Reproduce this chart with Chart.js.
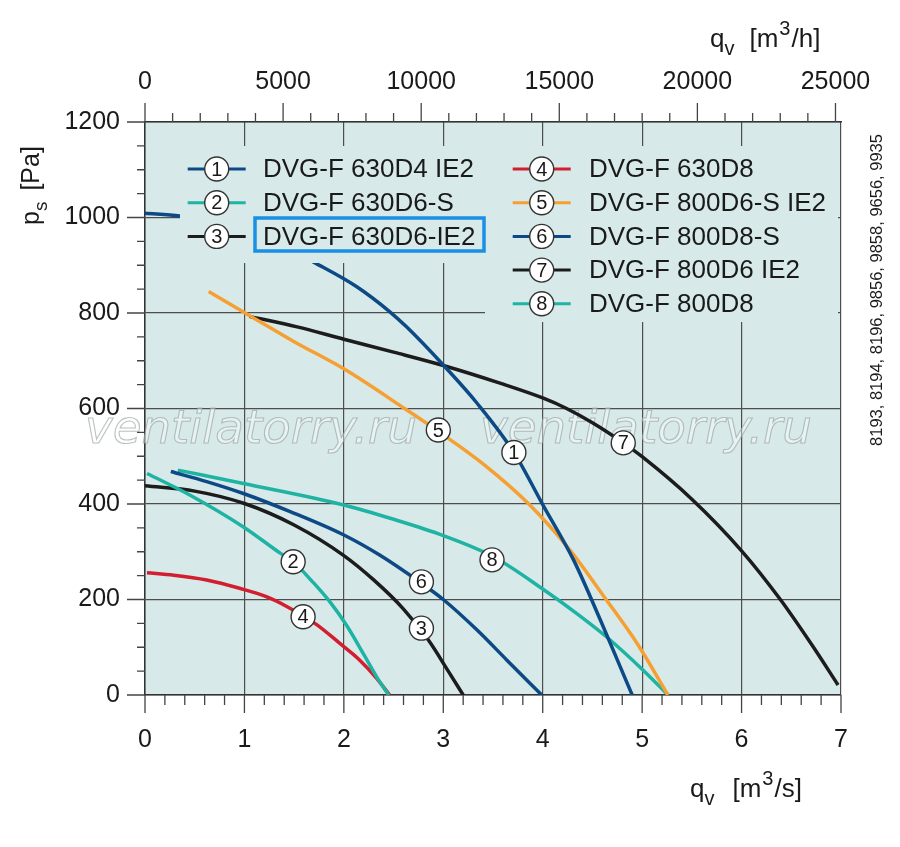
<!DOCTYPE html>
<html>
<head>
<meta charset="utf-8">
<title>DVG-F fan curves</title>
<script src="https://cdn.jsdelivr.net/npm/chart.js@4.4.1/dist/chart.umd.min.js"></script>
<style>
  html, body { margin: 0; padding: 0; background: #fff; }
  #wrap { width: 900px; height: 847px; }
</style>
</head>
<body>
<div id="wrap"><canvas id="fanChart" width="900" height="847"></canvas></div>
<script>
// curve data: q in m3/s, p in Pa
const seriesNames = [
  "DVG-F 630D4 IE2", "DVG-F 630D6-S", "DVG-F 630D6-IE2", "DVG-F 630D8",
  "DVG-F 800D6-S IE2", "DVG-F 800D8-S", "DVG-F 800D6 IE2", "DVG-F 800D8"
]
const q1 = [0, 0.35, 0.8, 1.3, 1.71, 2.13, 2.46, 2.63, 3.0, 3.34, 3.71, 4.01, 4.31, 4.58, 4.78, 4.9]
const p1 = [1009, 1003, 985, 950, 905, 855, 803, 771, 691, 611, 508, 395, 283, 157, 59, 0]
const q2 = [0.02, 0.45, 0.99, 1.36, 1.49, 1.69, 1.86, 2.03, 2.2, 2.33, 2.45]
const p2 = [464, 419, 352, 297, 279, 236, 195, 145, 85, 38, 0]
const q3 = [0, 0.5, 1.0, 1.5, 2.0, 2.3, 2.6, 2.85, 3.05, 3.2]
const p3 = [438, 427, 401, 356, 292, 241, 180, 115, 50, 0]
const q4 = [0.02, 0.29, 0.62, 0.96, 1.22, 1.43, 1.73, 1.96, 2.16, 2.33, 2.46]
const p4 = [256, 251, 241, 223, 206, 185, 147, 108, 73, 35, 0]
const q5 = [0.64, 1.05, 1.5, 2.0, 2.61, 3.0, 3.4, 3.86, 4.28, 4.61, 4.95, 5.26]
const p5 = [845, 795, 740, 683, 600, 545, 484, 400, 302, 208, 108, 0]
const q6 = [0.26, 0.62, 0.99, 1.46, 2.0, 2.36, 2.78, 3.0, 3.34, 3.64, 3.99]
const p6 = [468, 447, 422, 384, 335, 293, 234, 200, 136, 73, 0]
const q7 = [1.05, 1.53, 2.0, 2.5, 3.0, 3.57, 4.0, 4.24, 4.5, 4.81, 5.0, 5.5, 6.0, 6.39, 6.72, 6.97]
const p7 = [793, 771, 745, 718, 690, 653, 622, 600, 570, 528, 499, 410, 302, 200, 101, 21]
const q8 = [0.33, 0.99, 2.0, 2.5, 3.0, 3.5, 4.0, 4.34, 4.64, 5.01, 5.26]
const p8 = [471, 443, 398, 368, 334, 290, 222, 171, 122, 52, 0]

// where the numbered circles sit on each curve
const labelQ = [3.71, 1.49, 2.78, 1.59, 2.95, 2.78, 4.81, 3.49]
const labelP = [508, 279, 140, 164, 555, 237, 528, 283]

// top axis in m3/h
const topTicks = [0, 5000, 10000, 15000, 20000, 25000]

const sideNote = "8193, 8194, 8196, 9856, 9858, 9656, 9935"

const FONT = '"Liberation Sans", Arial, Helvetica, sans-serif'
const PLOT_BG = "#d7eae9"
const BLUE = "#0d4a85", TEAL = "#1fb3a3", BLACK = "#1c1c1c", RED = "#d21f30", ORANGE = "#f6a033"
const colors = [BLUE, TEAL, BLACK, RED, ORANGE, BLUE, BLACK, TEAL]

const qs = [q1, q2, q3, q4, q5, q6, q7, q8]
const ps = [p1, p2, p3, p4, p5, p6, p7, p8]

const datasets = seriesNames.map((name, i) => ({
  label: name,
  data: qs[i].map((q, k) => ({ x: q, y: ps[i][k] })),
  borderColor: colors[i],
  borderWidth: 3.5,
  pointRadius: 0,
  fill: false,
  cubicInterpolationMode: "monotone"
}))

function drawRich(ctx, parts, x, y, size) {
  parts.forEach(p => {
    const s = (p.sub || p.sup) ? Math.round(size * 0.76) : size
    ctx.font = `${s}px ${FONT}`
    const dy = p.sub ? size * 0.3 : p.sup ? -size * 0.48 : 0
    ctx.fillText(p.t, x, y + dy)
    x += ctx.measureText(p.t).width + (p.gap || 0)
  })
}

function badge(ctx, x, y, txt) {
  ctx.beginPath()
  ctx.arc(x, y, 12, 0, Math.PI * 2)
  ctx.fillStyle = "#fff"
  ctx.fill()
  ctx.lineWidth = 1.4
  ctx.strokeStyle = "#333"
  ctx.stroke()
  ctx.fillStyle = "#1a1a1a"
  ctx.font = `20px ${FONT}`
  ctx.textAlign = "center"
  ctx.textBaseline = "middle"
  ctx.fillText(txt, x, y + 1)
}

const decor = {
  id: "decor",
  beforeDraw(chart) {
    const { ctx, chartArea: a } = chart
    ctx.save()
    ctx.fillStyle = PLOT_BG
    ctx.fillRect(a.left, a.top, a.right - a.left, a.bottom - a.top)
    ctx.restore()
  },
  beforeDatasetsDraw(chart) {
    const ctx = chart.ctx
    ctx.save()
    ctx.textBaseline = "alphabetic"
    ctx.textAlign = "left"
    const mark = "ventilatorry.ru"
    ctx.font = `italic 50px "DejaVu Sans", sans-serif`
    const size = 50 * 332 / ctx.measureText(mark).width
    ctx.font = `italic ${size}px "DejaVu Sans", sans-serif`
    ctx.lineWidth = 1.1
    ctx.fillStyle = "rgba(255,255,255,0.4)"
    ctx.strokeStyle = "rgba(150,160,160,0.65)"
    ;[85, 480].forEach(x => {
      ctx.fillText(mark, x, 443)
      ctx.strokeText(mark, x, 443)
    })
    ctx.restore()
  },
  afterDatasetsDraw(chart) {
    const { ctx, scales } = chart
    ctx.save()
    // legend panels hide grid and curves beneath them
    ctx.fillStyle = PLOT_BG
    ctx.fillRect(180, 146, 305, 117)
    ctx.fillRect(485, 146, 353, 176)

    const rowY = i => 169 + 33.7 * i
    seriesNames.forEach((name, i) => {
      const left = i < 3
      const row = left ? i : i - 3
      const cx = left ? 216.7 : 541.7
      const y = rowY(row)
      ctx.strokeStyle = colors[i]
      ctx.lineWidth = 3
      ctx.beginPath()
      ctx.moveTo(cx - 29, y)
      ctx.lineTo(cx + 29, y)
      ctx.stroke()
      badge(ctx, cx, y, String(i + 1))
      ctx.fillStyle = "#1a1a1a"
      ctx.font = `26px ${FONT}`
      ctx.textAlign = "left"
      ctx.textBaseline = "middle"
      ctx.fillText(name, left ? 263 : 589, y + 1)
    })
    ctx.strokeStyle = "#1a8fe3"
    ctx.lineWidth = 3.5
    ctx.strokeRect(255, 218, 229, 33)

    labelQ.forEach((q, i) => {
      badge(ctx, scales.x.getPixelForValue(q), scales.y.getPixelForValue(labelP[i]), String(i + 1))
    })
    ctx.restore()
  },
  afterDraw(chart) {
    const { ctx, scales, chartArea: a } = chart
    ctx.save()
    ctx.strokeStyle = "#444"
    ctx.lineWidth = 1.3
    ctx.beginPath()
    for (let k = 0; k <= 35; k++) {
      const x = scales.x.getPixelForValue(k * 0.2)
      ctx.moveTo(x, a.bottom)
      ctx.lineTo(x, a.bottom + (k % 5 === 0 ? 18 : 10))
    }
    for (let k = 0; k <= 25; k++) {
      const x = scales.xh.getPixelForValue(k * 1000)
      ctx.moveTo(x, a.top)
      ctx.lineTo(x, a.top - (k % 5 === 0 ? 19 : 9))
    }
    for (let k = 0; k <= 24; k++) {
      const y = scales.y.getPixelForValue(k * 50)
      ctx.moveTo(a.left, y)
      ctx.lineTo(a.left - (k % 4 === 0 ? 18 : 8), y)
    }
    ctx.stroke()

    ctx.fillStyle = "#1a1a1a"
    ctx.textAlign = "left"
    ctx.textBaseline = "alphabetic"
    drawRich(ctx, [{ t: "q" }, { t: "v", sub: true, gap: 15 }, { t: "[m", gap: 1 }, { t: "3", sup: true, gap: 1 }, { t: "/h]" }], 710, 47, 26)
    drawRich(ctx, [{ t: "q" }, { t: "v", sub: true, gap: 18 }, { t: "[m", gap: 1 }, { t: "3", sup: true, gap: 1 }, { t: "/s]" }], 690, 797, 26)

    ctx.save()
    ctx.translate(39, 225)
    ctx.rotate(-Math.PI / 2)
    drawRich(ctx, [{ t: "p" }, { t: "s", sub: true, gap: 11 }, { t: "[Pa]" }], 0, 0, 25)
    ctx.restore()

    ctx.save()
    ctx.translate(882, 290)
    ctx.rotate(-Math.PI / 2)
    ctx.font = `16.5px ${FONT}`
    ctx.textAlign = "center"
    ctx.fillText(sideNote, 0, 0)
    ctx.restore()
    ctx.restore()
  }
}

const tickFont = { family: FONT, size: 25 }
const plain = v => String(v)

new Chart(document.getElementById("fanChart"), {
  type: "line",
  data: { datasets },
  options: {
    responsive: false,
    animation: false,
    layout: { padding: { left: 0, right: 59, top: 0, bottom: 0 } },
    plugins: { legend: { display: false }, tooltip: { enabled: false } },
    scales: {
      x: {
        type: "linear", position: "bottom", min: 0, max: 7,
        afterFit: s => { s.height = 152 },
        ticks: { stepSize: 1, padding: 30, color: "#1a1a1a", font: tickFont, maxRotation: 0, autoSkip: false, callback: plain },
        grid: { color: "#4d4d4d", lineWidth: 1.2, drawTicks: false },
        border: { color: "#333", width: 1.5 }
      },
      xh: {
        type: "linear", position: "top", min: 0, max: 7 * 3600,
        afterFit: s => { s.height = 122 },
        afterBuildTicks: s => { s.ticks = topTicks.map(v => ({ value: v })) },
        ticks: { padding: 25, color: "#1a1a1a", font: tickFont, maxRotation: 0, autoSkip: false, callback: plain },
        grid: { display: false, drawTicks: false },
        border: { color: "#333", width: 1.5 }
      },
      y: {
        type: "linear", min: 0, max: 1200,
        afterFit: s => { s.width = 145 },
        ticks: { stepSize: 200, padding: 25, color: "#1a1a1a", font: tickFont, autoSkip: false, callback: plain },
        grid: { color: "#4d4d4d", lineWidth: 1.2, drawTicks: false },
        border: { color: "#333", width: 1.5 }
      }
    }
  },
  plugins: [decor]
})
</script>
</body>
</html>
